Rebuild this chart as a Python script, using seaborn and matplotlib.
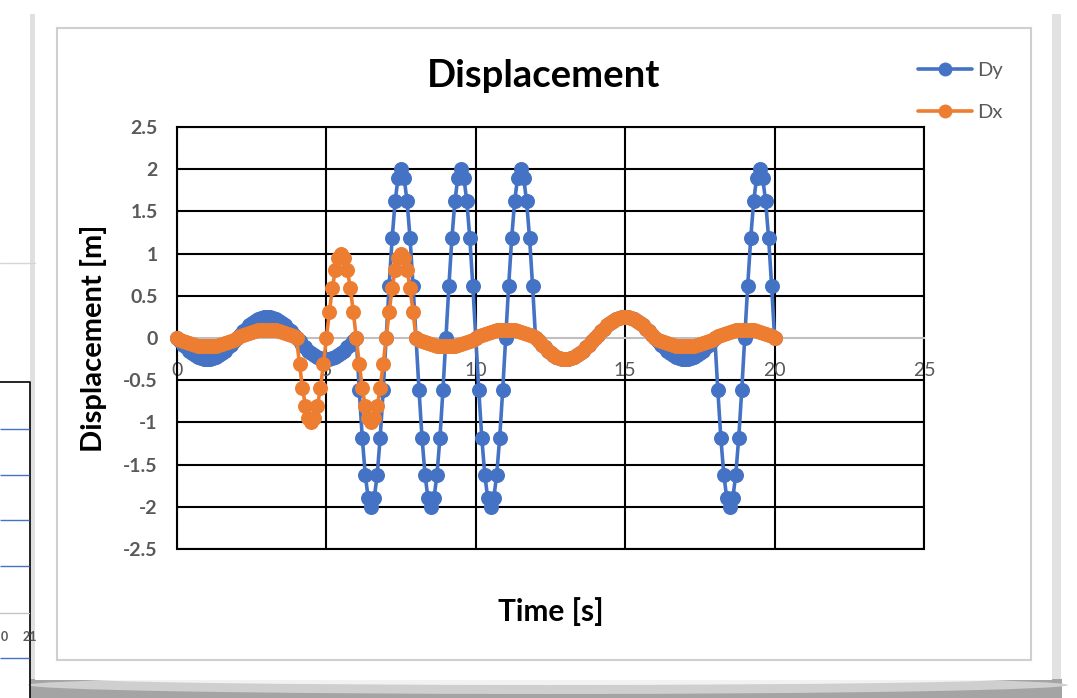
import matplotlib
matplotlib.use("Agg")
import matplotlib.pyplot as plt
from matplotlib.patches import Rectangle, Ellipse
from matplotlib.lines import Line2D
import pandas as pd
import seaborn as sns

# time samples [s], one row = 1 s
time_s = [
    0.0, 0.1, 0.2, 0.3, 0.4, 0.5, 0.6, 0.7, 0.8, 0.9,
    1.0, 1.1, 1.2, 1.3, 1.4, 1.5, 1.6, 1.7, 1.8, 1.9,
    2.0, 2.1, 2.2, 2.3, 2.4, 2.5, 2.6, 2.7, 2.8, 2.9,
    3.0, 3.1, 3.2, 3.3, 3.4, 3.5, 3.6, 3.7, 3.8, 3.9,
    4.0, 4.1, 4.2, 4.3, 4.4, 4.5, 4.6, 4.7, 4.8, 4.9,
    5.0, 5.1, 5.2, 5.3, 5.4, 5.5, 5.6, 5.7, 5.8, 5.9,
    6.0, 6.1, 6.2, 6.3, 6.4, 6.5, 6.6, 6.7, 6.8, 6.9,
    7.0, 7.1, 7.2, 7.3, 7.4, 7.5, 7.6, 7.7, 7.8, 7.9,
    8.0, 8.1, 8.2, 8.3, 8.4, 8.5, 8.6, 8.7, 8.8, 8.9,
    9.0, 9.1, 9.2, 9.3, 9.4, 9.5, 9.6, 9.7, 9.8, 9.9,
    10.0, 10.1, 10.2, 10.3, 10.4, 10.5, 10.6, 10.7, 10.8, 10.9,
    11.0, 11.1, 11.2, 11.3, 11.4, 11.5, 11.6, 11.7, 11.8, 11.9,
    12.0, 12.1, 12.2, 12.3, 12.4, 12.5, 12.6, 12.7, 12.8, 12.9,
    13.0, 13.1, 13.2, 13.3, 13.4, 13.5, 13.6, 13.7, 13.8, 13.9,
    14.0, 14.1, 14.2, 14.3, 14.4, 14.5, 14.6, 14.7, 14.8, 14.9,
    15.0, 15.1, 15.2, 15.3, 15.4, 15.5, 15.6, 15.7, 15.8, 15.9,
    16.0, 16.1, 16.2, 16.3, 16.4, 16.5, 16.6, 16.7, 16.8, 16.9,
    17.0, 17.1, 17.2, 17.3, 17.4, 17.5, 17.6, 17.7, 17.8, 17.9,
    18.0, 18.1, 18.2, 18.3, 18.4, 18.5, 18.6, 18.7, 18.8, 18.9,
    19.0, 19.1, 19.2, 19.3, 19.4, 19.5, 19.6, 19.7, 19.8, 19.9,
    20.0,
]

# Dy [m]
dy = [
    0.00, -0.04, -0.08, -0.11, -0.15, -0.18, -0.20, -0.22, -0.24, -0.25,
    -0.25, -0.25, -0.24, -0.22, -0.20, -0.18, -0.15, -0.11, -0.08, -0.04,
    0.00, 0.04, 0.08, 0.11, 0.15, 0.18, 0.20, 0.22, 0.24, 0.25,
    0.25, 0.25, 0.24, 0.22, 0.20, 0.18, 0.15, 0.11, 0.08, 0.04,
    0.00, -0.04, -0.08, -0.11, -0.15, -0.18, -0.20, -0.22, -0.24, -0.25,
    -0.25, -0.25, -0.24, -0.22, -0.20, -0.18, -0.15, -0.11, -0.08, -0.04,
    0.00, -0.62, -1.18, -1.62, -1.90, -2.00, -1.90, -1.62, -1.18, -0.62,
    0.00, 0.62, 1.18, 1.62, 1.90, 2.00, 1.90, 1.62, 1.18, 0.62,
    0.00, -0.62, -1.18, -1.62, -1.90, -2.00, -1.90, -1.62, -1.18, -0.62,
    0.00, 0.62, 1.18, 1.62, 1.90, 2.00, 1.90, 1.62, 1.18, 0.62,
    0.00, -0.62, -1.18, -1.62, -1.90, -2.00, -1.90, -1.62, -1.18, -0.62,
    0.00, 0.62, 1.18, 1.62, 1.90, 2.00, 1.90, 1.62, 1.18, 0.62,
    0.00, -0.04, -0.08, -0.11, -0.15, -0.18, -0.20, -0.22, -0.24, -0.25,
    -0.25, -0.25, -0.24, -0.22, -0.20, -0.18, -0.15, -0.11, -0.08, -0.04,
    0.00, 0.04, 0.08, 0.11, 0.15, 0.18, 0.20, 0.22, 0.24, 0.25,
    0.25, 0.25, 0.24, 0.22, 0.20, 0.18, 0.15, 0.11, 0.08, 0.04,
    0.00, -0.04, -0.08, -0.11, -0.15, -0.18, -0.20, -0.22, -0.24, -0.25,
    -0.25, -0.25, -0.24, -0.22, -0.20, -0.18, -0.15, -0.11, -0.08, -0.04,
    0.00, -0.62, -1.18, -1.62, -1.90, -2.00, -1.90, -1.62, -1.18, -0.62,
    0.00, 0.62, 1.18, 1.62, 1.90, 2.00, 1.90, 1.62, 1.18, 0.62,
    0.00,
]

# Dx [m]
dx = [
    0.00, -0.02, -0.03, -0.05, -0.06, -0.07, -0.08, -0.09, -0.10, -0.10,
    -0.10, -0.10, -0.10, -0.09, -0.08, -0.07, -0.06, -0.05, -0.03, -0.02,
    0.00, 0.02, 0.03, 0.05, 0.06, 0.07, 0.08, 0.09, 0.10, 0.10,
    0.10, 0.10, 0.10, 0.09, 0.08, 0.07, 0.06, 0.05, 0.03, 0.02,
    0.00, -0.31, -0.59, -0.81, -0.95, -1.00, -0.95, -0.81, -0.59, -0.31,
    0.00, 0.31, 0.59, 0.81, 0.95, 1.00, 0.95, 0.81, 0.59, 0.31,
    0.00, -0.31, -0.59, -0.81, -0.95, -1.00, -0.95, -0.81, -0.59, -0.31,
    0.00, 0.31, 0.59, 0.81, 0.95, 1.00, 0.95, 0.81, 0.59, 0.31,
    0.00, -0.02, -0.03, -0.05, -0.06, -0.07, -0.08, -0.09, -0.10, -0.10,
    -0.10, -0.10, -0.10, -0.09, -0.08, -0.07, -0.06, -0.05, -0.03, -0.02,
    0.00, 0.02, 0.03, 0.05, 0.06, 0.07, 0.08, 0.09, 0.10, 0.10,
    0.10, 0.10, 0.10, 0.09, 0.08, 0.07, 0.06, 0.05, 0.03, 0.02,
    0.00, -0.04, -0.08, -0.11, -0.15, -0.18, -0.20, -0.22, -0.24, -0.25,
    -0.25, -0.25, -0.24, -0.22, -0.20, -0.18, -0.15, -0.11, -0.08, -0.04,
    0.00, 0.04, 0.08, 0.11, 0.15, 0.18, 0.20, 0.22, 0.24, 0.25,
    0.25, 0.25, 0.24, 0.22, 0.20, 0.18, 0.15, 0.11, 0.08, 0.04,
    0.00, -0.02, -0.03, -0.05, -0.06, -0.07, -0.08, -0.09, -0.10, -0.10,
    -0.10, -0.10, -0.10, -0.09, -0.08, -0.07, -0.06, -0.05, -0.03, -0.02,
    0.00, 0.02, 0.03, 0.05, 0.06, 0.07, 0.08, 0.09, 0.10, 0.10,
    0.10, 0.10, 0.10, 0.09, 0.08, 0.07, 0.06, 0.05, 0.03, 0.02,
    0.00,
]

series_names = ["Dy", "Dx"]
series_colors = ["#4472C4", "#ED7D31"]

x_ticks = [0, 5, 10, 15, 20, 25]
x_tick_labels = ["0", "5", "10", "15", "20", "25"]
y_ticks = [-2.5, -2, -1.5, -1, -0.5, 0, 0.5, 1, 1.5, 2, 2.5]
y_tick_labels = ["-2.5", "-2", "-1.5", "-1", "-0.5", "0", "0.5", "1", "1.5", "2", "2.5"]

W, H = 1077, 698
TICK_GREY = "#595959"


def draw_background(fig):
    # screenshot surroundings: window behind, card with shadow, chart frame
    bg = fig.add_axes([0, 0, 1, 1], zorder=-1)
    bg.set_xlim(0, W)
    bg.set_ylim(H, 0)
    bg.axis("off")

    # bits of the sheet behind the card
    bg.plot([0, 35], [263, 263], color="#d6d6d6", lw=1)
    bg.plot([0, 29.5, 29.5], [382, 382, H], color="black", lw=1.2)
    bg.hlines([429, 475, 520, 566, 658], 0, 29, color="#4472C4", lw=1)
    bg.plot([0, 29], [613, 613], color="#c4c4c4", lw=1)
    bg.text(4, 637, "0", ha="center", va="center", fontsize=9, color=TICK_GREY,
            fontweight="bold")
    bg.text(30, 637, "21", ha="center", va="center", fontsize=9, color=TICK_GREY,
            fontweight="bold")

    # card shadow
    bg.add_patch(Rectangle((30, 14), 8, 668, color="#e0e0e0", lw=0))
    bg.add_patch(Rectangle((1050, 14), 11, 672, color="#e2e2e2", lw=0))
    bg.add_patch(Rectangle((30, 679), 1032, 19, color="#a4a4a4", lw=0))
    bg.add_patch(Ellipse((548, 685), 1040, 18, color="#cfcfcf", lw=0))
    bg.add_patch(Ellipse((548, 678), 960, 14, color="#f2f2f2", lw=0))

    # card and chart frame
    bg.add_patch(Rectangle((35, 9), 1017, 671, color="white", lw=0))
    bg.add_patch(Rectangle((57, 28), 974, 632, fill=False, ec="#cfcfcf", lw=1.5))


def main():
    sns.set_style("white")
    plt.rcParams["font.family"] = ["Lato", "DejaVu Sans"]

    fig = plt.figure(figsize=(W / 100, H / 100), dpi=100)
    fig.patch.set_facecolor("white")
    draw_background(fig)

    ax = fig.add_axes([177 / W, 1 - 549 / H, 747 / W, 422 / H])

    df = pd.DataFrame({
        "time": time_s + time_s,
        "value": dy + dx,
        "series": ["Dy"] * len(dy) + ["Dx"] * len(dx),
    })

    sns.lineplot(
        data=df, x="time", y="value", hue="series",
        hue_order=series_names, palette=series_colors,
        estimator=None, sort=False, legend=False,
        marker="o", markersize=10.8, markeredgewidth=0, linewidth=2.6,
        clip_on=False, zorder=3, ax=ax,
    )

    ax.set_xlim(0, 25)
    ax.set_ylim(-2.5, 2.5)
    ax.set_xticks(x_ticks)
    ax.set_xticklabels(x_tick_labels)
    ax.set_yticks(y_ticks)
    ax.set_yticklabels(y_tick_labels)
    ax.tick_params(axis="both", length=0, colors=TICK_GREY, labelsize=14)
    ax.tick_params(axis="x", pad=17)
    ax.tick_params(axis="y", pad=14)
    for lab in ax.get_xticklabels() + ax.get_yticklabels():
        lab.set_fontweight("bold")

    # excel style: black grid, horizontal axis crossing at 0
    ax.grid(True, color="black", lw=1.5)
    for tick, loc in zip(ax.yaxis.get_major_ticks(), y_ticks):
        if loc == 0:
            tick.gridline.set_visible(False)
    for side in ["top", "left", "right"]:
        ax.spines[side].set_color("black")
        ax.spines[side].set_linewidth(1.5)
    ax.spines["bottom"].set_position(("data", 0))
    ax.spines["bottom"].set_color("#bfbfbf")
    ax.spines["bottom"].set_linewidth(1.5)
    ax.axhline(-2.5, color="black", lw=1.5, clip_on=False, zorder=2.5)

    ax.set_xlabel("Time [s]", fontsize=21.5, fontweight="bold", color="black")
    ax.xaxis.set_label_coords(0.5, -0.113)
    ax.set_ylabel("Displacement [m]", fontsize=21, fontweight="bold", color="black")
    ax.yaxis.set_label_coords(-0.0937, 0.5)

    fig.text(544 / W, 1 - 87 / H, "Displacement", ha="center", va="baseline",
             fontsize=27.5, fontweight="bold", color="black")

    handles = [
        Line2D([], [], color=c, marker="o", lw=2.6, markersize=10, markeredgewidth=0)
        for c in series_colors
    ]
    fig.legend(
        handles, series_names, loc="upper left",
        bbox_to_anchor=(918 / W, 1 - 62 / H), bbox_transform=fig.transFigure,
        frameon=False, fontsize=14.5, labelcolor=TICK_GREY,
        handlelength=2.7, handletextpad=0.25, labelspacing=1.25,
        borderpad=0, borderaxespad=0,
    )

    fig.savefig("out.png", dpi=100, facecolor=fig.get_facecolor())
    plt.close(fig)


if __name__ == "__main__":
    main()
